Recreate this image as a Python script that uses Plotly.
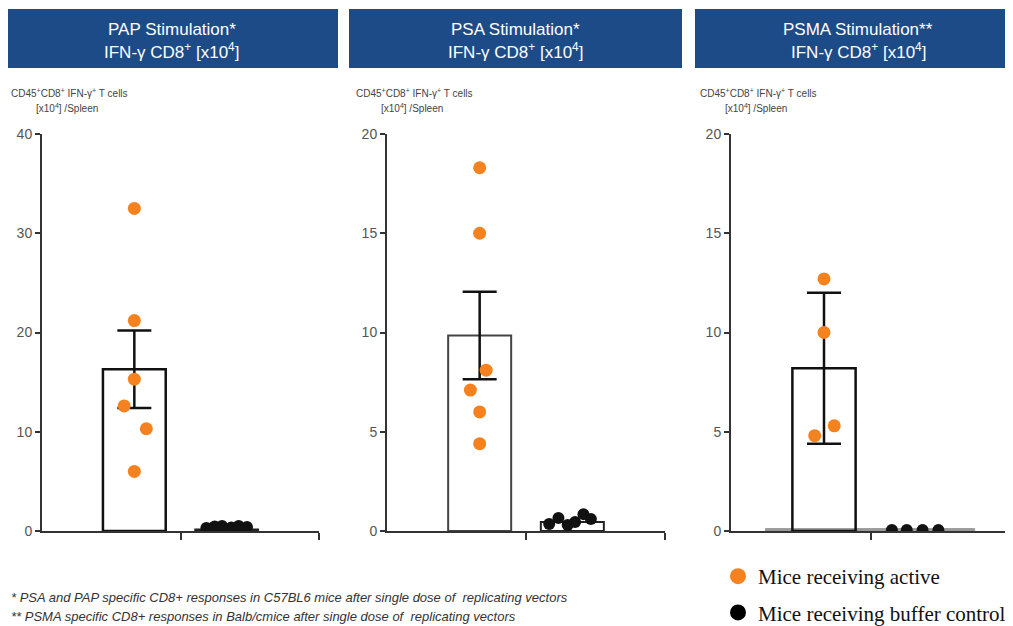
import plotly.graph_objects as go

# ---------------- data ----------------
panel_titles = ["PAP Stimulation*", "PSA Stimulation*", "PSMA Stimulation**"]
panel_subtitle = "IFN-γ CD8<sup>+</sup> [x10<sup>4</sup>]"
y_max = [40, 20, 20]
y_dtick = [10, 5, 5]

# active group (orange dots)
pap_active = [32.5, 21.2, 15.3, 12.6, 10.3, 6.0]
pap_active_jitter = [0.0, 0.0, 0.0, -0.11, 0.13, 0.0]
psa_active = [18.3, 15.0, 8.1, 7.1, 6.0, 4.4]
psa_active_jitter = [0.0, 0.0, 0.07, -0.1, 0.0, 0.0]
psma_active = [12.7, 10.0, 5.3, 4.8]
psma_active_jitter = [0.0, 0.0, 0.11, -0.1]

# buffer control group (black dots)
pap_control = [0.3, 0.45, 0.5, 0.35, 0.5, 0.4]
pap_control_jitter = [-0.22, -0.13, -0.05, 0.05, 0.13, 0.22]
psa_control = [0.35, 0.65, 0.3, 0.45, 0.85, 0.6]
psa_control_jitter = [-0.25, -0.15, -0.05, 0.03, 0.12, 0.2]
psma_control = [0.05, 0.05, 0.05, 0.05]
psma_control_jitter = [-0.27, -0.11, 0.06, 0.23]

# bar heights and error bars
active_mean = [16.3, 9.85, 8.2]
active_err = [3.9, 2.2, 3.8]
control_mean = [0.15, 0.45, 0.12]

active_sets = [(pap_active, pap_active_jitter), (psa_active, psa_active_jitter),
               (psma_active, psma_active_jitter)]
control_sets = [(pap_control, pap_control_jitter), (psa_control, psa_control_jitter),
                (psma_control, psma_control_jitter)]

footnotes = [
    "* PSA and PAP specific CD8+ responses in C57BL6 mice after single dose of  replicating vectors",
    "** PSMA specific CD8+ responses in Balb/cmice after single dose of  replicating vectors",
]
legend_labels = ["Mice receiving active", "Mice receiving buffer control"]

# ---------------- style ----------------
W, H = 1013, 626
OFF = 8  # page margin of the html body
ORANGE = "#F5821F"
BLUE = "#1d4b87"
AXC = "#333333"
NARROW = "Liberation Sans Narrow, Arial Narrow, Liberation Sans, Arial, sans-serif"
ACTIVE_X, CONTROL_X = 1.0, 2.0

px_x = [(42, 319), (387, 665), (731, 1010)]
px_y = (134, 531)
header_px = [(5, 338), (349, 682), (695, 1030)]
header_center_px = [171.5, 515.5, 858]

def fx(p):
    return (p - OFF) / W

def fy(p):
    return 1 - (p - OFF) / H

fig = go.Figure()
annotations = []
shapes = []

for i in range(3):
    xa = "x" if i == 0 else f"x{i+1}"
    ya = "y" if i == 0 else f"y{i+1}"
    # control bar
    if i == 2:
        fig.add_trace(go.Bar(x=[CONTROL_X], y=[control_mean[i]], width=2.25, offset=-1.63,
                             marker=dict(color="#9a9a9a", line=dict(color="#9a9a9a", width=1)),
                             xaxis=xa, yaxis=ya, showlegend=False, hoverinfo="skip"))
    else:
        fig.add_trace(go.Bar(x=[CONTROL_X], y=[control_mean[i]], width=0.68,
                             marker=dict(color="white", line=dict(color="#222", width=2)),
                             xaxis=xa, yaxis=ya, showlegend=False, hoverinfo="skip"))
    # active bar with error bar
    fig.add_trace(go.Bar(x=[ACTIVE_X], y=[active_mean[i]], width=0.68,
                         marker=dict(color="rgba(255,255,255,0)",
                                     line=dict(color="#111" if i != 1 else "#444", width=2.5 if i != 1 else 2)),
                         error_y=dict(type="data", array=[active_err[i]], visible=True,
                                      color="#111", thickness=2.5, width=17),
                         xaxis=xa, yaxis=ya, showlegend=False, hoverinfo="skip"))
    vals, jit = active_sets[i]
    fig.add_trace(go.Scatter(x=[ACTIVE_X + j for j in jit], y=vals, mode="markers",
                             marker=dict(color=ORANGE, size=13), xaxis=xa, yaxis=ya,
                             showlegend=False, cliponaxis=True))
    vals, jit = control_sets[i]
    fig.add_trace(go.Scatter(x=[CONTROL_X + j for j in jit], y=vals, mode="markers",
                             marker=dict(color="#111", size=12), xaxis=xa, yaxis=ya,
                             showlegend=False, cliponaxis=True))

    xl, xr = px_x[i]
    fig.update_layout(**{
        ("xaxis" if i == 0 else f"xaxis{i+1}"): dict(
            domain=[fx(xl), fx(xr)], range=[0, 3], anchor=ya,
            tickvals=[1.5, 3], ticks="outside", ticklen=7, tickwidth=2, tickcolor=AXC,
            showticklabels=False, showline=True, linewidth=2, linecolor=AXC,
            showgrid=False, zeroline=False, fixedrange=True),
        ("yaxis" if i == 0 else f"yaxis{i+1}"): dict(
            domain=[fy(px_y[1]), fy(px_y[0])], range=[0, y_max[i]], anchor=xa,
            dtick=y_dtick[i], ticks="outside", ticklen=5, tickwidth=2, tickcolor=AXC,
            showline=True, linewidth=2, linecolor=AXC, showgrid=False, zeroline=False,
            tickfont=dict(family=NARROW, size=14, color="#555"), fixedrange=True),
    })

    # header box
    hl, hr = header_px[i]
    shapes.append(dict(type="rect", xref="paper", yref="paper", x0=fx(hl), x1=fx(hr),
                       y0=fy(68), y1=fy(9), fillcolor=BLUE, line=dict(width=0), layer="below"))
    hc = fx(header_center_px[i])
    annotations.append(dict(text=panel_titles[i], x=hc, y=fy(29), xref="paper", yref="paper",
                            showarrow=False, xanchor="center", yanchor="middle",
                            font=dict(family=NARROW, size=17, color="white")))
    annotations.append(dict(text=panel_subtitle, x=hc, y=fy(51), xref="paper", yref="paper",
                            showarrow=False, xanchor="center", yanchor="middle",
                            font=dict(family=NARROW, size=17, color="white")))
    # y axis title (two small lines)
    annotations.append(dict(text="CD45<sup>+</sup>CD8<sup>+</sup> IFN-γ<sup>+</sup> T cells",
                            x=fx(xl - 33), y=fy(93), xref="paper", yref="paper",
                            showarrow=False, xanchor="left", yanchor="middle",
                            font=dict(family=NARROW, size=10, color="#444")))
    annotations.append(dict(text="[x10<sup>4</sup>] /Spleen",
                            x=fx(xl - 8), y=fy(108), xref="paper", yref="paper",
                            showarrow=False, xanchor="left", yanchor="middle",
                            font=dict(family=NARROW, size=10, color="#444")))

for k, t in enumerate(footnotes):
    annotations.append(dict(text=f"<i>{t}</i>", x=fx(9), y=fy(597 + 19 * k), xref="paper",
                            yref="paper", showarrow=False, xanchor="left", yanchor="middle",
                            font=dict(family="Liberation Sans, Arial, sans-serif", size=13,
                                      color="#333")))

# legend-only traces
for lab, col, grp in [(legend_labels[0], ORANGE, "a"), (legend_labels[1], "#000", "b")]:
    fig.add_trace(go.Scatter(x=[None], y=[None], mode="markers", name=lab, legendgroup=grp,
                             marker=dict(color=col, size=16), showlegend=True))

fig.update_layout(
    width=W, height=H, margin=dict(l=0, r=0, t=0, b=0, pad=0, autoexpand=False),
    paper_bgcolor="white", plot_bgcolor="white", barmode="overlay",
    shapes=shapes, annotations=annotations,
    legend=dict(x=fx(718), y=fy(556), xanchor="left", yanchor="top",
                font=dict(family="Liberation Serif, Times New Roman, serif", size=21, color="#111"),
                bgcolor="rgba(0,0,0,0)", tracegroupgap=6, itemwidth=30),
    showlegend=True,
)

fig.write_html("out.html")
